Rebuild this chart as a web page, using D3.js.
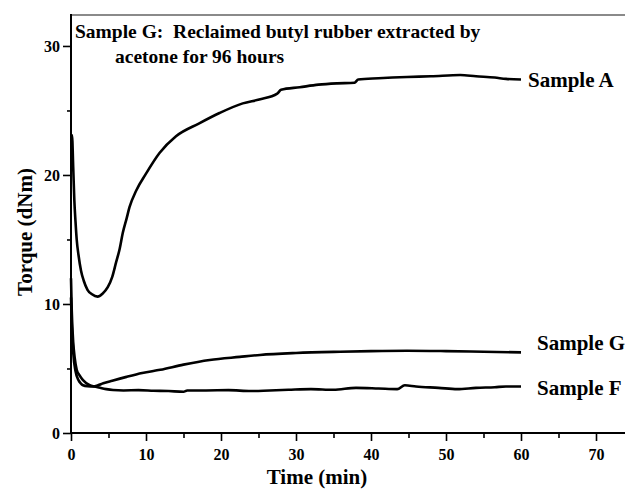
<!DOCTYPE html>
<html>
<head>
<meta charset="utf-8">
<script src="https://cdn.jsdelivr.net/npm/d3@7"></script>
<style>
  html, body { margin: 0; padding: 0; background: #fff; }
  svg { display: block; }
  text { font-family: "Liberation Serif", "Times New Roman", serif; font-weight: bold; fill: #000; }
</style>
</head>
<body>
<svg id="chart" width="625" height="489"></svg>
<script>
// ---- Data ----
const timeA = [0, 0.13, 0.3, 0.44, 0.6, 0.76, 1.0, 1.33, 1.7, 2.2, 2.8, 3.55, 4.2, 4.9, 5.5, 6.0, 6.5, 6.9, 7.4, 7.8, 8.7, 10.0, 11.8, 14.0, 17.1, 19.8, 22.9, 25.1, 27.5, 28.0, 30.5, 33.0, 35.5, 37.8, 38.3, 41.0, 44.8, 48.0, 51.9, 54.0, 56.5, 58.0, 60.0];
const torqueA = [23.0, 23.1, 20.5, 18.1, 16.4, 15.0, 13.8, 12.6, 11.8, 11.1, 10.75, 10.57, 10.8, 11.3, 12.1, 13.2, 14.3, 15.5, 16.6, 17.5, 18.8, 20.1, 21.7, 23.0, 24.0, 24.8, 25.55, 25.85, 26.3, 26.6, 26.8, 27.0, 27.1, 27.15, 27.4, 27.5, 27.6, 27.65, 27.75, 27.65, 27.55, 27.45, 27.4];

const timeG = [0, 0.1, 0.3, 0.6, 1.0, 1.3, 1.6, 2.2, 3.0, 3.6, 4.3, 5.5, 7.4, 9.5, 11.9, 15.0, 18.5, 22.5, 25.2, 30.0, 35.9, 40.0, 44.8, 50.0, 55.0, 60.0];
const torqueG = [10.5, 8.5, 6.2, 4.8, 4.1, 3.85, 3.7, 3.62, 3.6, 3.7, 3.85, 4.05, 4.35, 4.65, 4.9, 5.3, 5.66, 5.9, 6.05, 6.2, 6.3, 6.35, 6.38, 6.35, 6.3, 6.25];

const timeF = [0, 0.1, 0.3, 0.5, 0.76, 1.1, 1.6, 2.5, 3.2, 3.9, 4.7, 5.6, 7.0, 9.0, 11.0, 13.0, 15.0, 15.5, 18.0, 21.0, 24.0, 26.5, 29.0, 32.0, 35.0, 38.0, 41.0, 43.5, 44.5, 46.0, 49.0, 51.5, 54.0, 56.5, 58.0, 60.0];
const torqueF = [12.0, 9.5, 7.0, 5.8, 4.9, 4.5, 4.1, 3.7, 3.6, 3.5, 3.4, 3.33, 3.3, 3.32, 3.28, 3.25, 3.2, 3.3, 3.3, 3.32, 3.25, 3.3, 3.35, 3.4, 3.35, 3.5, 3.45, 3.4, 3.7, 3.6, 3.5, 3.4, 3.5, 3.55, 3.6, 3.6];

const seriesNames = ["Sample A", "Sample G", "Sample F"];
const xMajorTicks = [0, 10, 20, 30, 40, 50, 60, 70];
const xMinorTicks = [5, 15, 25, 35, 45, 55, 65];
const yMajorTicks = [0, 10, 20, 30];
const yMinorTicks = [5, 15, 25];
const titleLine1 = "Sample G:  Reclaimed butyl rubber extracted by";
const titleLine2 = "acetone for 96 hours";
const xLabel = "Time (min)";
const yLabel = "Torque (dNm)";

// ---- Layout ----
const svg = d3.select("#chart");
const mLeft = 71, mRight = 626, mTop = 15, mBottom = 433;
const x = d3.scaleLinear().domain([0, 74]).range([mLeft, mRight]);
const y = d3.scaleLinear().domain([0, 32.4]).range([mBottom, mTop]);

// top frame line (grey)
svg.append("line").attr("x1", mLeft).attr("x2", 625).attr("y1", mTop).attr("y2", mTop)
  .attr("stroke", "#8a8a8a").attr("stroke-width", 2);

// axes
const yAxis = svg.append("g").attr("transform", `translate(${mLeft},0)`)
  .call(d3.axisLeft(y).tickValues(yMajorTicks).tickSize(8).tickSizeOuter(0).tickPadding(3));
const yMinor = svg.append("g").attr("transform", `translate(${mLeft},0)`)
  .call(d3.axisLeft(y).tickValues(yMinorTicks).tickSize(4).tickFormat("").tickSizeOuter(0));
const xAxis = svg.append("g").attr("transform", `translate(0,${mBottom})`)
  .call(d3.axisBottom(x).tickValues(xMajorTicks).tickSize(8).tickSizeOuter(0).tickPadding(8));
const xMinor = svg.append("g").attr("transform", `translate(0,${mBottom})`)
  .call(d3.axisBottom(x).tickValues(xMinorTicks).tickSize(5).tickFormat("").tickSizeOuter(0));

[yAxis, yMinor, xAxis, xMinor].forEach(g => {
  g.selectAll("path.domain").remove();
  g.selectAll("line").attr("stroke", "#000").attr("stroke-width", 1.6);
  g.selectAll("text").attr("font-family", "Liberation Serif, Times New Roman, serif")
    .attr("font-weight", "bold").attr("font-size", 16).attr("fill", "#000");
});
// axis lines
svg.append("line").attr("x1", mLeft).attr("x2", mLeft).attr("y1", mTop - 1).attr("y2", mBottom)
  .attr("stroke", "#000").attr("stroke-width", 2);
svg.append("line").attr("x1", mLeft).attr("x2", 625).attr("y1", mBottom).attr("y2", mBottom)
  .attr("stroke", "#000").attr("stroke-width", 2);

// lines
const lineGen = d3.line().x(d => x(d[0])).y(d => y(d[1])).curve(d3.curveMonotoneX);
const datasets = [
  d3.zip(timeA, torqueA),
  d3.zip(timeG, torqueG),
  d3.zip(timeF, torqueF)
];
datasets.forEach(ds => {
  svg.append("path").datum(ds).attr("d", lineGen)
    .attr("fill", "none").attr("stroke", "#000").attr("stroke-width", 2.6)
    .attr("stroke-linejoin", "round");
});

// series labels
const labelPos = [[528, 87], [537, 350], [537, 395]];
seriesNames.forEach((n, i) => {
  svg.append("text").attr("x", labelPos[i][0]).attr("y", labelPos[i][1])
    .attr("font-size", 21).text(n);
});

// title annotation
svg.append("text").attr("x", 75).attr("y", 38).attr("font-size", 19.5)
  .style("white-space", "pre").text(titleLine1);
svg.append("text").attr("x", 115).attr("y", 63).attr("font-size", 19.5).text(titleLine2);

// axis titles
svg.append("text").attr("x", 317).attr("y", 484).attr("text-anchor", "middle")
  .attr("font-size", 21).text(xLabel);
svg.append("text").attr("transform", "translate(32,232) rotate(-90)")
  .attr("text-anchor", "middle").attr("font-size", 21).text(yLabel);
</script>
</body>
</html>
